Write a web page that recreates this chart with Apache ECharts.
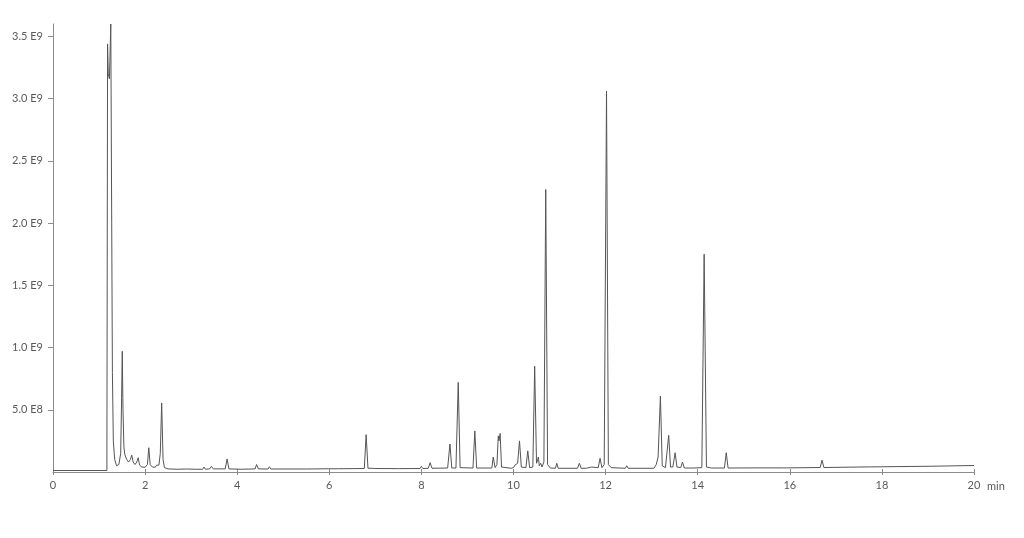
<!DOCTYPE html>
<html>
<head>
<meta charset="utf-8">
<script src="https://cdn.jsdelivr.net/npm/echarts@6/dist/echarts.min.js"></script>
<style>html,body{margin:0;padding:0;background:#fff}#c{width:1024px;height:538px}</style>
</head>
<body>
<div id="c"></div>
<script>
// Retention time (min) and intensity (units of 1E8 counts)
const traceEarly = [
  [0,0.12],[1.17,0.12],[1.185,34.4],[1.2,32],[1.225,31.6],[1.235,33],[1.255,36],[1.275,20],[1.29,8],[1.31,2.5],
  [1.34,1.0],[1.38,0.5],[1.43,0.6],[1.47,1.5],[1.49,6],[1.504,9.7],[1.52,5],[1.54,2],[1.56,1.4],[1.6,1.0],
  [1.64,0.8],[1.68,1.0],[1.71,1.35],[1.74,0.8],[1.78,0.6],[1.82,0.8],[1.85,1.15],[1.88,0.55],[1.93,0.4],[2.0,0.38],
  [2.05,0.6],[2.08,1.95],[2.11,0.6],[2.16,0.4],[2.22,0.38],[2.25,0.55],[2.28,0.42],[2.3,0.55],[2.33,1.5],[2.36,5.55],
  [2.39,1.0],[2.42,0.35],[2.5,0.25],[2.7,0.22],[2.9,0.24],[3.1,0.22]
];
const traceMid = [
  [3.25,0.22],[3.28,0.4],[3.31,0.22],[3.4,0.25],[3.44,0.45],[3.48,0.25],[3.74,0.25],[3.78,1.05],[3.82,0.25],[4.1,0.22],
  [4.39,0.25],[4.42,0.6],[4.46,0.25],[4.67,0.24],[4.70,0.42],[4.73,0.24],[5.5,0.24],[5.98,0.26],[6.0,0.35],[6.02,0.26],
  [6.2,0.26],[6.76,0.28],[6.80,3.0],[6.84,0.3],[6.93,0.3],[6.96,0.4],[6.99,0.28],[7.5,0.27],[7.97,0.28],[8.0,0.45],
  [8.03,0.28],[8.15,0.3],[8.19,0.75],[8.23,0.3],[8.57,0.32],[8.62,2.25],[8.66,0.32],[8.75,0.32],[8.80,7.2],[8.84,0.35],
  [9.12,0.32],[9.16,3.3],[9.2,0.32],[9.53,0.32],[9.56,1.2],[9.6,0.35],[9.64,0.6],[9.67,2.9],[9.685,2.5],[9.71,3.1],
  [9.74,0.4],[9.95,0.3],[9.98,0.45],[10.0,0.35],[10.03,0.55],[10.06,0.5],[10.09,0.7],[10.13,2.5],[10.17,0.4],[10.27,0.35],
  [10.31,1.7],[10.35,0.35],[10.42,0.4],[10.46,8.5],[10.50,0.7],[10.52,0.9],[10.54,1.2],[10.56,0.5],[10.59,0.7],[10.62,0.4],
  [10.66,0.8],[10.70,22.7],[10.74,0.6],[10.8,0.32],[10.91,0.3],[10.94,0.7],[10.97,0.3]
];
const traceLate = [
  [11.39,0.3],[11.43,0.7],[11.47,0.3],[11.58,0.3],[11.61,0.45],[11.64,0.35],[11.69,0.4],[11.73,0.3],[11.84,0.35],[11.88,1.1],
  [11.92,0.35],[11.97,0.6],[12.02,30.6],[12.06,0.6],[12.12,0.35],[12.43,0.3],[12.46,0.5],[12.49,0.3],[13.05,0.3],[13.1,0.6],
  [13.14,1.2],[13.19,6.1],[13.23,0.5],[13.3,0.35],[13.37,2.95],[13.41,0.4],[13.46,0.4],[13.51,1.55],[13.55,0.4],[13.63,0.35],
  [13.67,0.8],[13.71,0.32],[13.9,0.32],[14.09,0.35],[14.14,17.5],[14.19,0.4],[14.3,0.32],[14.58,0.32],[14.62,1.55],[14.66,0.32],
  [15.2,0.33],[15.87,0.33],[15.9,0.42],[15.93,0.33],[16.66,0.36],[16.70,0.95],[16.74,0.36],[17.5,0.4],[18,0.42],[19,0.46],[20,0.52]
];
const xTicks = [0,2,4,6,8,10,12,14,16,18,20];
const yTickValues = [5,10,15,20,25,30,35];           // in 1E8
const yTickLabels = ['5.0 E8','1.0 E9','1.5 E9','2.0 E9','2.5 E9','3.0 E9','3.5 E9'];

const trace = traceEarly.concat(traceMid, traceLate);
const labelColor = '#595959';
const axisColor = '#8c8c8c';
const font = 'Lato, "Open Sans", sans-serif';

const chart = echarts.init(document.getElementById('c'), null, {renderer:'canvas'});
chart.setOption({
  animation: false,
  backgroundColor: '#fff',
  grid: {left: 53, right: 50, top: 24, bottom: 66, containLabel: false},
  xAxis: [{
    type: 'value', min: 0, max: 20, interval: 2, position: 'bottom',
    name: 'min', nameLocation: 'end', nameGap: 13,
    nameTextStyle: {color: labelColor, fontSize: 11, fontFamily: font, align: 'left', verticalAlign: 'top', padding: [9,0,0,0]},
    axisLine: {lineStyle: {color: axisColor, width: 1}},
    axisTick: {show: true, inside: false, length: 3, lineStyle: {color: axisColor}},
    axisLabel: {color: labelColor, fontSize: 11, fontFamily: font, margin: 8},
    splitLine: {show: false}
  }, {
    type: 'value', min: 0, max: 20, interval: 2, position: 'bottom',
    axisLine: {show: false},
    axisTick: {show: true, inside: true, length: 3, lineStyle: {color: axisColor}},
    axisLabel: {show: false},
    splitLine: {show: false}
  }],
  yAxis: {
    type: 'value', min: 0, max: 36,
    axisLine: {show: true, lineStyle: {color: axisColor, width: 1}},
    axisTick: {show: true, inside: false, length: 5, lineStyle: {color: axisColor}, customValues: yTickValues},
    axisLabel: {
      color: labelColor, fontSize: 11, fontFamily: font, margin: 10,
      customValues: yTickValues,
      formatter: v => { const i = yTickValues.indexOf(v); return i >= 0 ? yTickLabels[i] : ''; }
    },
    splitLine: {show: false}
  },
  series: [{
    type: 'line', xAxisIndex: 0, data: trace, symbol: 'none', smooth: false,
    lineStyle: {color: '#555555', width: 1}, clip: true
  }]
});
</script>
</body>
</html>
